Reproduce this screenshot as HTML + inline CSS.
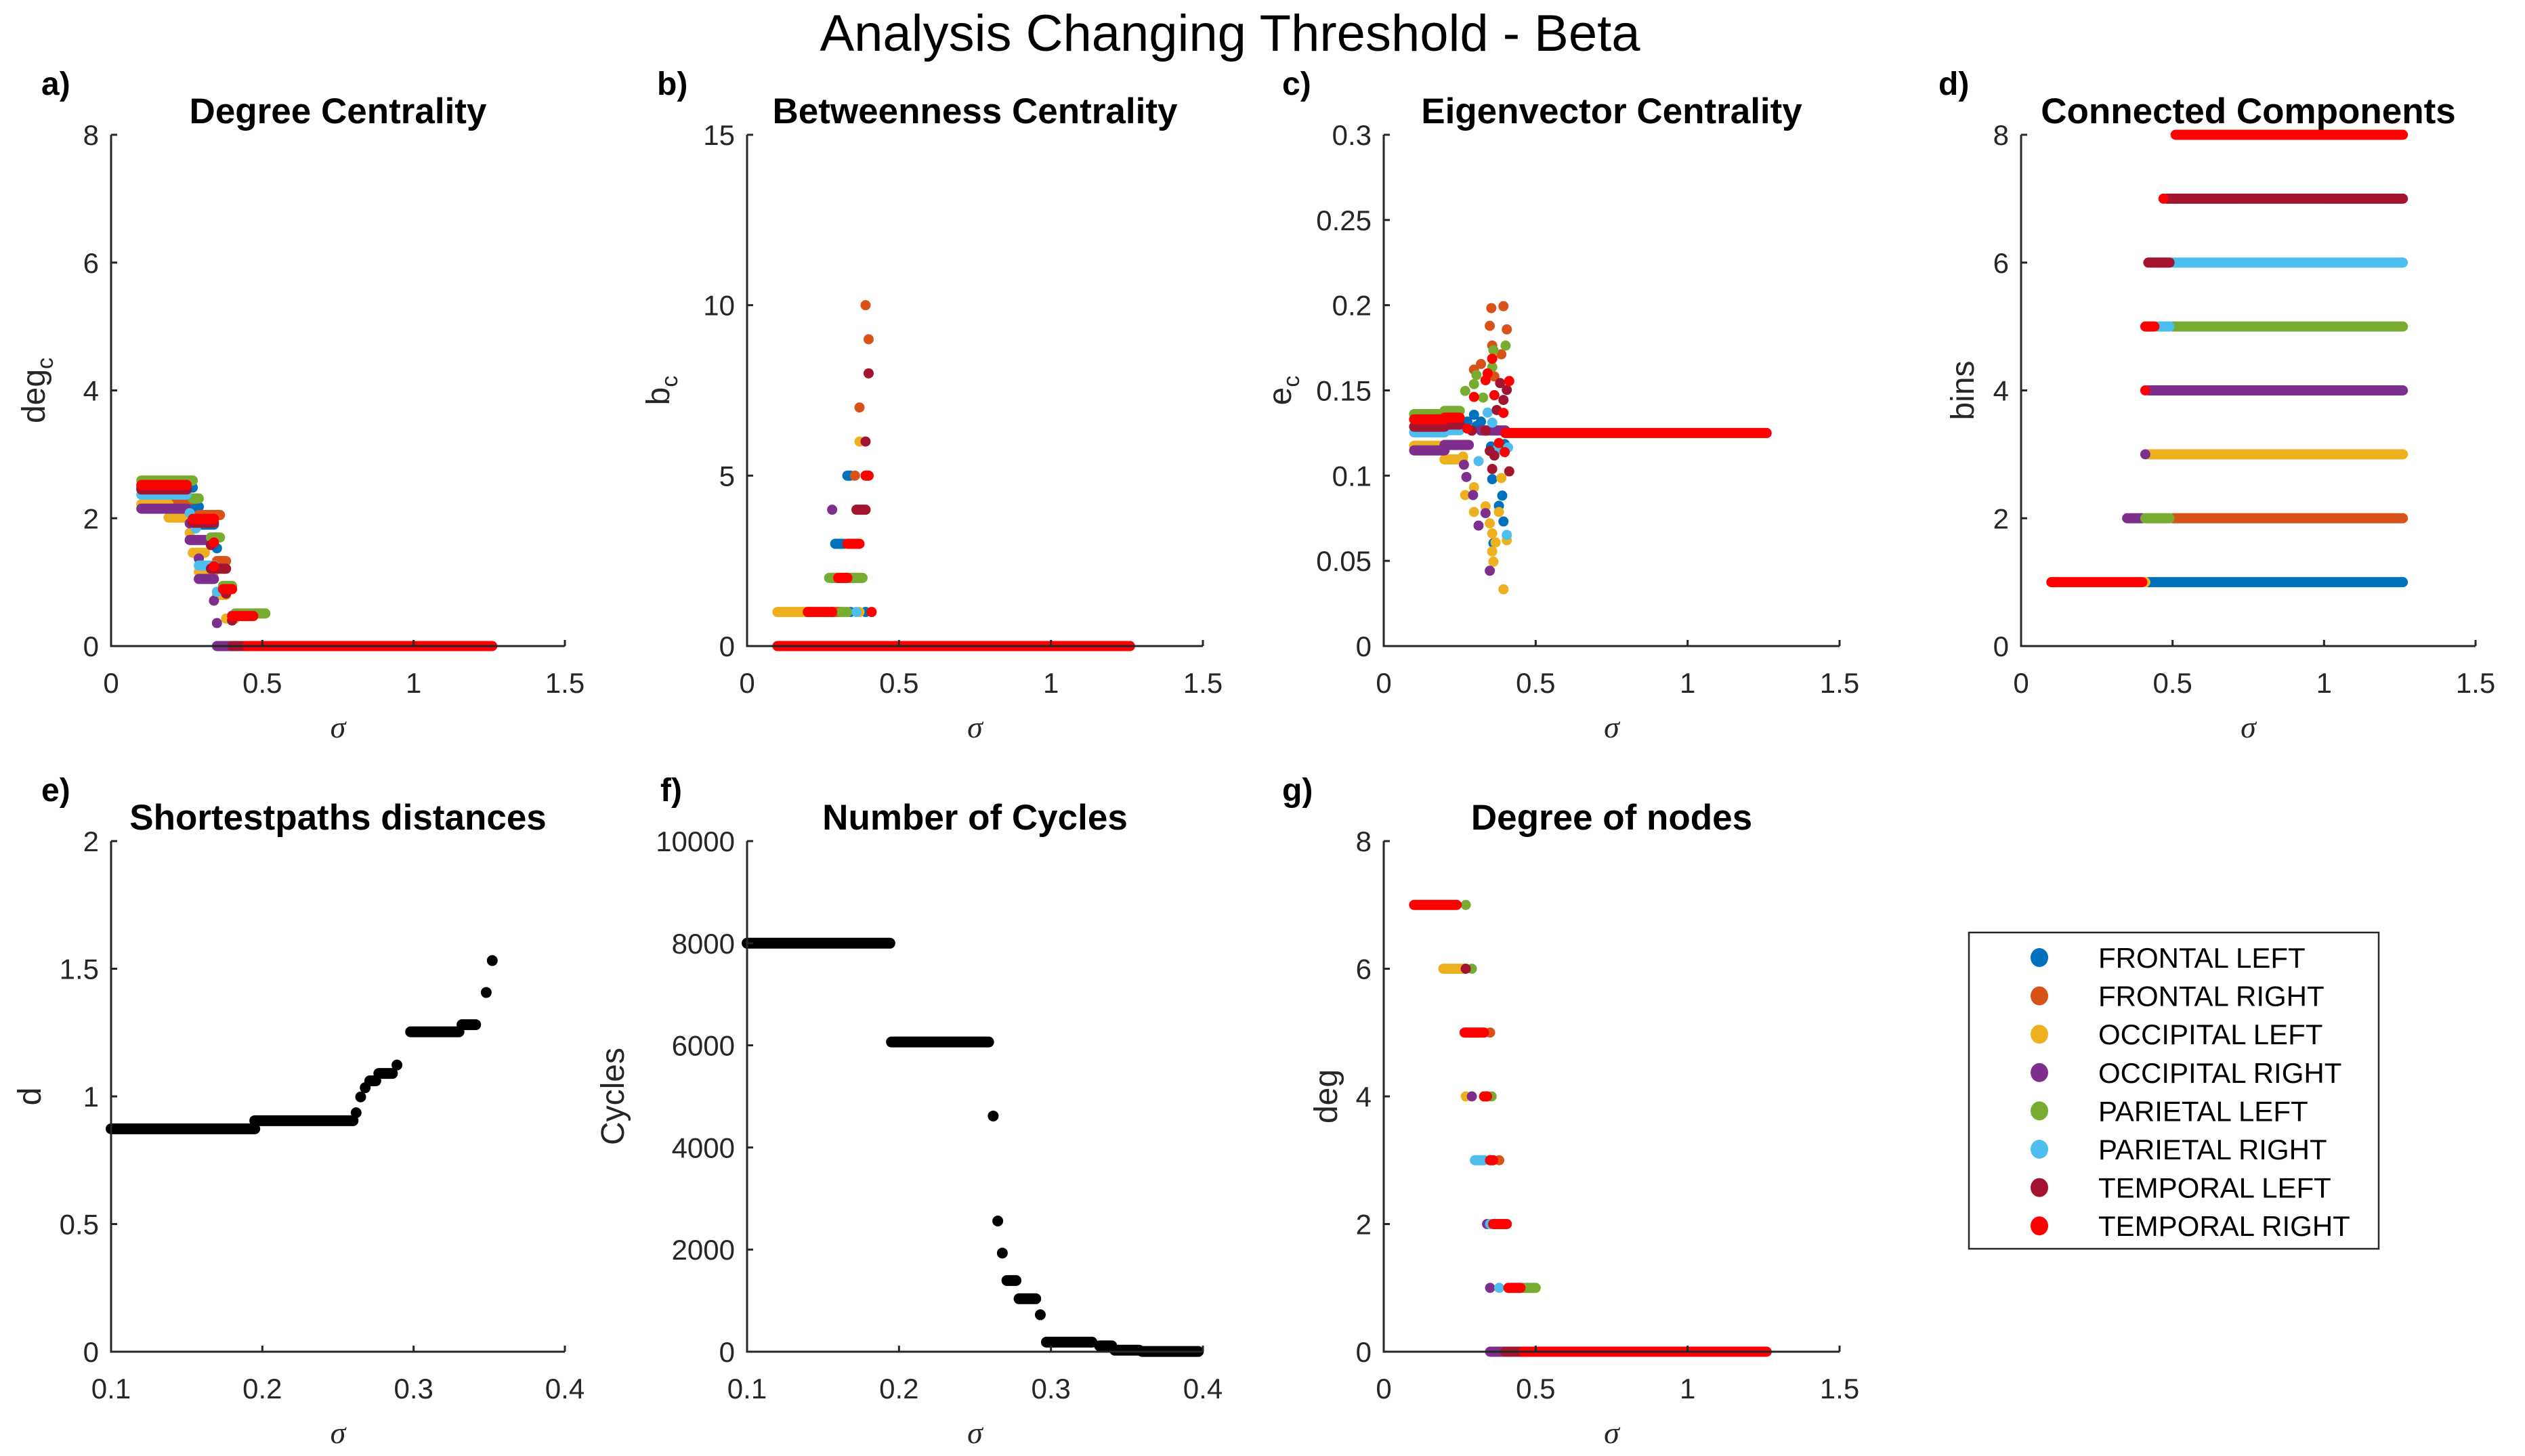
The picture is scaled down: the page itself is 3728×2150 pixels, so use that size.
<!DOCTYPE html>
<html><head><meta charset="utf-8"><style>
html,body{margin:0;padding:0;background:#fff;}
svg{display:block;font-family:"Liberation Sans",Arial,sans-serif;}
</style></head><body>
<svg id="fig" width="3728" height="2150" viewBox="0 0 3728 2150" xmlns="http://www.w3.org/2000/svg">
<rect x="0" y="0" width="3728" height="2150" fill="#fff"/>
<text x="1816" y="75" font-size="76" text-anchor="middle" fill="#000">Analysis Changing Threshold - Beta</text>
<g id="panels"></g>
<g id="legend">
<rect x="2907" y="1377" width="605" height="467" fill="#fff" stroke="#262626" stroke-width="2.5"/>
</g>
</svg>
<script>
const seriesNames = ["FRONTAL LEFT","FRONTAL RIGHT","OCCIPITAL LEFT","OCCIPITAL RIGHT","PARIETAL LEFT","PARIETAL RIGHT","TEMPORAL LEFT","TEMPORAL RIGHT"];
const seriesColors = ["#0072BD","#D95319","#EDB120","#7E2F8E","#77AC30","#4DBEEE","#A2142F","#FF0000"];

// [seriesIndex, sigmaStart, sigmaEnd, value]
const degreeCentrality = [
[4,0.10,0.27,2.59],[0,0.10,0.25,2.48],[7,0.10,0.25,2.52],[6,0.10,0.25,2.45],[5,0.10,0.25,2.37],
[1,0.19,0.28,2.30],[4,0.27,0.29,2.31],[2,0.10,0.19,2.22],[3,0.10,0.25,2.15],[0,0.27,0.29,2.18],[0,0.26,0.27,2.48],
[2,0.19,0.25,2.01],[5,0.26,0.26,2.08],[1,0.29,0.36,2.05],[7,0.27,0.34,1.99],[3,0.26,0.26,1.92],
[6,0.27,0.34,1.93],[0,0.30,0.34,1.90],[5,0.28,0.28,1.84],[2,0.26,0.26,1.77],[3,0.26,0.31,1.66],
[4,0.33,0.36,1.70],[7,0.34,0.34,1.62],[6,0.33,0.33,1.58],[0,0.35,0.35,1.53],[2,0.27,0.31,1.46],
[3,0.29,0.29,1.37],[5,0.29,0.34,1.26],[1,0.35,0.38,1.33],[7,0.34,0.34,1.25],[6,0.33,0.38,1.21],
[2,0.29,0.34,1.16],[3,0.29,0.34,1.05],[4,0.37,0.40,0.94],[5,0.35,0.35,0.85],[7,0.37,0.40,0.89],
[6,0.38,0.38,0.82],[2,0.35,0.38,0.80],[3,0.34,0.34,0.71],[4,0.41,0.51,0.51],[5,0.40,0.40,0.48],
[7,0.40,0.47,0.47],[6,0.40,0.40,0.40],[2,0.38,0.41,0.43],[3,0.35,0.35,0.36],
[3,0.35,0.40,0],[6,0.40,0.45,0],[7,0.45,1.26,0]
];
const betweennessCentrality = [
[1,0.39,0.39,10],[1,0.40,0.40,9],[6,0.40,0.40,8],[1,0.37,0.37,7],[2,0.37,0.37,6],[6,0.39,0.39,6],
[0,0.33,0.34,5],[1,0.355,0.355,5],[7,0.39,0.40,5],[3,0.28,0.28,4],[6,0.36,0.39,4],
[0,0.29,0.32,3],[7,0.33,0.37,3],[4,0.27,0.38,2],[0,0.28,0.31,2],[7,0.30,0.33,2],[1,0.34,0.37,2],
[2,0.10,0.20,1],[7,0.20,0.28,1],[1,0.28,0.31,1],[4,0.31,0.33,1],[0,0.34,0.34,1],[5,0.36,0.36,1],[2,0.37,0.37,1],[0,0.39,0.39,1],[7,0.41,0.41,1],
[7,0.10,1.26,0],[6,0.18,0.23,0],[5,0.32,0.32,0],[0,0.35,0.35,0],[5,0.37,0.37,0],[7,0.40,1.26,0]
];
const eigenvectorCentrality = [
[4,0.10,0.20,0.1361],[4,0.20,0.25,0.1380],[7,0.10,0.20,0.1330],[7,0.20,0.25,0.1340],
[6,0.10,0.20,0.1287],[6,0.20,0.25,0.1300],[5,0.10,0.20,0.1254],[5,0.20,0.25,0.1267],
[2,0.10,0.20,0.1175],[3,0.10,0.20,0.1148],[3,0.20,0.28,0.1180],[2,0.20,0.26,0.1095],
[1,0.354,0.354,0.1983],[1,0.394,0.394,0.1994],[1,0.349,0.349,0.1879],[1,0.405,0.405,0.1858],[1,0.357,0.357,0.1763],[1,0.387,0.387,0.1712],[1,0.297,0.297,0.1622],[1,0.320,0.320,0.1655],[1,0.364,0.364,0.1582],
[4,0.401,0.401,0.1763],[4,0.361,0.361,0.1736],[4,0.357,0.357,0.1637],[4,0.297,0.297,0.1537],[4,0.268,0.268,0.1497],[4,0.305,0.305,0.1590],[4,0.327,0.327,0.1458],
[7,0.357,0.357,0.1686],[7,0.342,0.342,0.1600],[7,0.413,0.413,0.1555],[7,0.335,0.335,0.1560],[7,0.297,0.297,0.1462],[7,0.364,0.364,0.1472],[7,0.394,0.394,0.1368],[7,0.275,0.275,0.1276],[7,0.379,0.379,0.1191],[7,0.398,0.398,0.1138],
[6,0.383,0.383,0.1543],[6,0.405,0.405,0.1503],[6,0.394,0.394,0.1444],[6,0.372,0.372,0.1385],[6,0.290,0.290,0.1264],[6,0.335,0.335,0.1264],[6,0.349,0.349,0.1145],[6,0.357,0.357,0.1039],[6,0.413,0.413,0.1025],[6,0.364,0.364,0.1118],
[0,0.297,0.297,0.1357],[0,0.275,0.275,0.1317],[0,0.320,0.320,0.1317],[0,0.305,0.305,0.1291],[0,0.353,0.353,0.1171],[0,0.357,0.357,0.0979],[0,0.390,0.390,0.0883],[0,0.379,0.379,0.0823],[0,0.394,0.394,0.0731],[0,0.361,0.361,0.0604],[0,0.398,0.398,0.1185],
[5,0.342,0.342,0.1370],[5,0.357,0.357,0.1311],[5,0.312,0.312,0.1085],[5,0.409,0.409,0.1165],[5,0.405,0.405,0.0652],[5,0.372,0.372,0.1151],
[2,0.261,0.261,0.1112],[2,0.268,0.268,0.0886],[2,0.297,0.297,0.0932],[2,0.335,0.335,0.0820],[2,0.297,0.297,0.0787],[2,0.379,0.379,0.0787],[2,0.349,0.349,0.0720],[2,0.357,0.357,0.0661],[2,0.368,0.368,0.0608],[2,0.357,0.357,0.0555],[2,0.361,0.361,0.0495],[2,0.394,0.394,0.0333],[2,0.387,0.387,0.0986],[2,0.405,0.405,0.0621],
[3,0.264,0.264,0.1064],[3,0.272,0.272,0.0992],[3,0.294,0.294,0.0886],[3,0.335,0.335,0.0780],[3,0.312,0.312,0.0707],[3,0.349,0.349,0.0442],
[3,0.32,0.40,0.1265],[7,0.40,1.26,0.125]
];
const connectedComponents = [
[7,0.51,1.26,8],[7,0.47,0.47,7],[6,0.48,1.26,7],[6,0.42,0.49,6],[5,0.50,1.26,6],
[7,0.41,0.44,5],[5,0.45,0.49,5],[4,0.50,1.26,5],[7,0.41,0.41,4],[3,0.42,1.26,4],
[3,0.41,0.41,3],[2,0.42,1.26,3],[3,0.35,0.40,2],[4,0.41,0.49,2],[1,0.50,1.26,2],
[7,0.10,0.40,1],[2,0.41,0.41,1],[0,0.42,1.26,1]
];
const degreeOfNodes = [
[7,0.10,0.24,7],[4,0.27,0.27,7],[2,0.196,0.266,6],[6,0.27,0.27,6],[4,0.29,0.29,6],
[7,0.266,0.33,5],[1,0.35,0.35,5],[2,0.27,0.27,4],[3,0.29,0.29,4],[7,0.33,0.34,4],[4,0.355,0.355,4],
[5,0.30,0.33,3],[6,0.35,0.35,3],[7,0.35,0.36,3],[1,0.38,0.38,3],
[3,0.34,0.34,2],[5,0.35,0.35,2],[7,0.36,0.405,2],
[3,0.35,0.35,1],[5,0.38,0.38,1],[7,0.41,0.45,1],[4,0.46,0.50,1],
[3,0.35,0.40,0],[6,0.40,0.46,0],[7,0.46,1.26,0]
];
// [sigmaStart, sigmaEnd, value]
const shortestPaths = [
[0.10,0.195,0.873],[0.195,0.26,0.905],[0.262,0.262,0.936],[0.265,0.265,0.998],[0.268,0.268,1.034],
[0.271,0.275,1.061],[0.277,0.286,1.090],[0.289,0.289,1.123],[0.298,0.330,1.253],[0.332,0.341,1.281],
[0.348,0.348,1.407],[0.352,0.352,1.532]
];
const numCycles = [
[0.10,0.194,8000],[0.195,0.259,6066],[0.262,0.262,4616],[0.265,0.265,2560],[0.268,0.268,1932],
[0.271,0.277,1395],[0.279,0.290,1037],[0.293,0.293,724],[0.297,0.327,187],[0.332,0.340,115],
[0.342,0.358,30],[0.36,0.397,5]
];

const sigmaTicks = [0,0.5,1,1.5];
const sigmaTickLabels = ["0","0.5","1","1.5"];
const smallSigmaTicks = [0.1,0.2,0.3,0.4];
const smallSigmaTickLabels = ["0.1","0.2","0.3","0.4"];

const NS="http://www.w3.org/2000/svg";
const root=document.getElementById('panels');
function mk(tag,attrs,parent){const e=document.createElementNS(NS,tag);for(const k in attrs)e.setAttribute(k,attrs[k]);(parent||root).appendChild(e);return e;}

const panels=[
 {key:'a',letter:'a)',title:'Degree Centrality',ylab:['deg','c'],L:164,R:834,T:199,B:954,x0:0,x1:1.5,y0:0,y1:8,xt:sigmaTicks,xl:sigmaTickLabels,yt:[0,2,4,6,8],yl:["0","2","4","6","8"],data:degreeCentrality,ylx:50,lx:61},
 {key:'b',letter:'b)',title:'Betweenness Centrality',ylab:['b','c'],L:1103,R:1776,T:199,B:954,x0:0,x1:1.5,y0:0,y1:15,xt:sigmaTicks,xl:sigmaTickLabels,yt:[0,5,10,15],yl:["0","5","10","15"],data:betweennessCentrality,ylx:972,lx:970},
 {key:'c',letter:'c)',title:'Eigenvector Centrality',ylab:['e','c'],L:2043,R:2716,T:199,B:954,x0:0,x1:1.5,y0:0,y1:0.3,xt:sigmaTicks,xl:sigmaTickLabels,yt:[0,0.05,0.1,0.15,0.2,0.25,0.3],yl:["0","0.05","0.1","0.15","0.2","0.25","0.3"],data:eigenvectorCentrality,ylx:1890,lx:1893},
 {key:'d',letter:'d)',title:'Connected Components',ylab:['bins'],L:2984,R:3655,T:199,B:954,x0:0,x1:1.5,y0:0,y1:8,xt:sigmaTicks,xl:sigmaTickLabels,yt:[0,2,4,6,8],yl:["0","2","4","6","8"],data:connectedComponents,ylx:2898,lx:2862},
 {key:'e',letter:'e)',title:'Shortestpaths distances',ylab:['d'],L:164,R:834,T:1242,B:1996,x0:0.1,x1:0.4,y0:0,y1:2,xt:smallSigmaTicks,xl:smallSigmaTickLabels,yt:[0,0.5,1,1.5,2],yl:["0","0.5","1","1.5","2"],black:shortestPaths,ylx:44,lx:61},
 {key:'f',letter:'f)',title:'Number of Cycles',ylab:['Cycles'],L:1103,R:1776,T:1242,B:1996,x0:0.1,x1:0.4,y0:0,y1:10000,xt:smallSigmaTicks,xl:smallSigmaTickLabels,yt:[0,2000,4000,6000,8000,10000],yl:["0","2000","4000","6000","8000","10000"],black:numCycles,ylx:905,lx:975},
 {key:'g',letter:'g)',title:'Degree of nodes',ylab:['deg'],L:2043,R:2716,T:1242,B:1996,x0:0,x1:1.5,y0:0,y1:8,xt:sigmaTicks,xl:sigmaTickLabels,yt:[0,2,4,6,8],yl:["0","2","4","6","8"],data:degreeOfNodes,ylx:1958,lx:1893}
];

const R=7.5;
panels.forEach(p=>{
 const g=mk('g',{});
 
 
 const sx=v=>p.L+(v-p.x0)/(p.x1-p.x0)*(p.R-p.L);
 const sy=v=>p.B-(v-p.y0)/(p.y1-p.y0)*(p.B-p.T);
 const lt=mk('text',{x:p.lx,y:p.T-59,'font-size':48,'font-weight':'bold',fill:'#000'},g);lt.textContent=p.letter;
 
 
 const tt=mk('text',{x:(p.L+p.R)/2,y:p.T-17,'font-size':53,'font-weight':'bold','text-anchor':'middle',fill:'#000'},g);tt.textContent=p.title;
 
 
 const mg=mk('g',{},g);
 
 
 if(p.data){
  const sorted=p.data.map((d,i)=>[d,i]).sort((a,b)=>a[0][0]-b[0][0]||a[1]-b[1]).map(a=>a[0]);
  sorted.forEach(d=>{
   const col=seriesColors[d[0]];
   let m;
   if(d[1]===d[2]) m=mk('circle',{cx:sx(d[1]),cy:sy(d[3]),r:R,fill:col},mg);
   else m=mk('line',{x1:sx(d[1]),x2:sx(d[2]),y1:sy(d[3]),y2:sy(d[3]),stroke:col,'stroke-width':2*R,'stroke-linecap':'round'},mg);
   
   
  });
 }
 if(p.black){
  p.black.forEach(d=>{
   let m;
   if(d[0]===d[1]) m=mk('circle',{cx:sx(d[0]),cy:sy(d[2]),r:8,fill:'#000'},mg);
   else m=mk('line',{x1:sx(d[0]),x2:sx(d[1]),y1:sy(d[2]),y2:sy(d[2]),stroke:'#000','stroke-width':16,'stroke-linecap':'round'},mg);
   
   
  });
 }
 const ax=mk('path',{d:`M${p.L},${p.T}V${p.B}H${p.R}`,fill:'none',stroke:'#262626','stroke-width':3},g);
 
 
 p.xt.forEach((v,i)=>{
  const x=sx(v);
  mk('line',{x1:x,x2:x,y1:p.B,y2:p.B-9,stroke:'#262626','stroke-width':3},g);
  const t=mk('text',{x:x,y:p.B+69,'font-size':42,'text-anchor':'middle',fill:'#262626'},g);t.textContent=p.xl[i];
  
  
 });
 p.yt.forEach((v,i)=>{
  const y=sy(v);
  mk('line',{x1:p.L,x2:p.L+9,y1:y,y2:y,stroke:'#262626','stroke-width':3},g);
  const t=mk('text',{x:p.L-18,y:y+15,'font-size':42,'text-anchor':'end',fill:'#262626'},g);t.textContent=p.yl[i];
  
  
 });
 const xl=mk('text',{x:(p.L+p.R)/2,y:p.B+135,'font-size':46,'font-style':'italic','font-family':'"Liberation Serif",serif','text-anchor':'middle',fill:'#262626'},g);xl.textContent='σ';
 
 
 const cy=(p.T+p.B)/2;
 const yl=mk('text',{x:0,y:0,'font-size':48,'text-anchor':'middle',fill:'#262626',transform:`translate(${p.ylx+16},${cy}) rotate(-90)`},g);
 
 
 const s1=mk('tspan',{},yl);s1.textContent=p.ylab[0];
 if(p.ylab[1]){const s2=mk('tspan',{'font-size':34,dy:12},yl);s2.textContent=p.ylab[1];}
});

const leg=document.getElementById('legend');
seriesNames.forEach((n,i)=>{
 const y=1414+i*56.6;
 const e=mk('g',{},leg);
 
 
 mk('ellipse',{cx:3011,cy:y,rx:13,ry:14,fill:seriesColors[i]},e);
 const t=mk('text',{x:3098,y:y+15,'font-size':42,fill:'#000'},e);t.textContent=n;
});
</script>
</body></html>
